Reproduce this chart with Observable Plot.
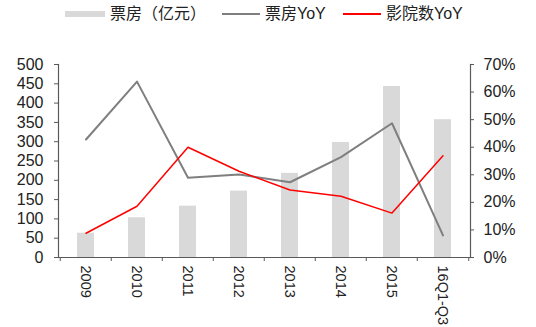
<!DOCTYPE html>
<html><head><meta charset="utf-8">
<script src="https://cdn.jsdelivr.net/npm/d3@7"></script>
<script src="https://cdn.jsdelivr.net/npm/@observablehq/plot@0.6"></script>
<style>
body{margin:0;background:#fff;}
#wrap{position:relative;width:536px;height:327px;font-family:"Liberation Sans",Arial,sans-serif;}
#legend{position:relative;height:28px;font-family:"Liberation Sans","Noto Sans CJK SC",sans-serif;font-size:16px;color:#222;}
#legend span{position:absolute;top:4px;line-height:20px;white-space:nowrap;}
#legend i{position:absolute;display:block;}
</style></head>
<body><div id="wrap"><div id="legend"></div><div id="chart"></div></div>
<script>
const categories = ["2009","2010","2011","2012","2013","2014","2015","16Q1-Q3"];
const boxOffice = [63, 103, 133, 172, 218, 298, 443, 357];      // 亿元
const boxOfficeYoY = [42.8, 63.8, 28.9, 30.1, 27.3, 36.4, 48.7, 8.0]; // %
const cinemaYoY = [8.8, 18.6, 40.0, 31.3, 24.5, 22.2, 16.1, 36.9];   // %
const leftTicks = [0,50,100,150,200,250,300,350,400,450,500];
const rightTicks = [0,10,20,30,40,50,60,70];
const seriesNames = ["票房（亿元）","票房YoY","影院数YoY"];

const leftMax = 500, rightMax = 70, k = leftMax / rightMax;
const rows = categories.map((c,i)=>({cat:c, box:boxOffice[i], yoy:boxOfficeYoY[i]*k, cin:cinemaYoY[i]*k}));

// legend
const lg = document.getElementById("legend");
lg.innerHTML = `
<i style="left:65px;top:11px;width:40px;height:6px;background:#d9d9d9"></i>
<span style="left:110px">${seriesNames[0]}</span>
<i style="left:222px;top:13px;width:38px;height:2px;background:#7f7f7f"></i>
<span style="left:265px">${seriesNames[1]}</span>
<i style="left:343px;top:13px;width:38px;height:2px;background:#ff0000"></i>
<span style="left:386px">${seriesNames[2]}</span>`;

const axisColor = "#595959";
const chart = Plot.plot({
  width: 536, height: 299,
  marginTop: 36, marginBottom: 70, marginLeft: 58, marginRight: 66,
  style: {fontFamily: "'Liberation Sans', Arial, sans-serif", fontSize: "15px", color: "#222", background: "#fff"},
  x: {domain: categories, paddingInner: 0.66, paddingOuter: 0.33, axis: null},
  y: {domain: [0, leftMax], axis: null},
  marks: [
    Plot.barY(rows, {x: "cat", y: "box", fill: "#d9d9d9"}),
    Plot.line(rows, {x: "cat", y: "yoy", stroke: "#7f7f7f", strokeWidth: 2}),
    Plot.line(rows, {x: "cat", y: "cin", stroke: "#ff0000", strokeWidth: 1.5}),
    Plot.frame({anchor: "left", stroke: axisColor, strokeWidth: 1.2}),
    Plot.frame({anchor: "right", stroke: axisColor, strokeWidth: 1.2}),
    Plot.frame({anchor: "bottom", stroke: axisColor, strokeWidth: 1.2}),
    Plot.axisY(leftTicks, {anchor: "left", tickSize: 4, tickPadding: 11, stroke: axisColor, label: null, fontSize: 16}),
    Plot.axisY(rightTicks.map(v=>v*k), {anchor: "right", tickSize: 3, tickPadding: 10, stroke: axisColor, label: null,
      tickFormat: d => Math.round(d / k) + "%", fontSize: 16}),
    Plot.axisX(categories, {anchor: "bottom", tickSize: 4, dx: -25.75, tickFormat: null, stroke: axisColor, label: null}),
    Plot.axisX(categories.slice(-1), {anchor: "bottom", tickSize: 4, dx: 25.75, tickFormat: null, stroke: axisColor, label: null}),
    Plot.axisX(categories, {anchor: "bottom", tickSize: 0, tickPadding: 8, tickRotate: 90, textAnchor: "start", label: null, fontSize: 14.5})
  ]
});
document.getElementById("chart").appendChild(chart);
</script></body></html>
